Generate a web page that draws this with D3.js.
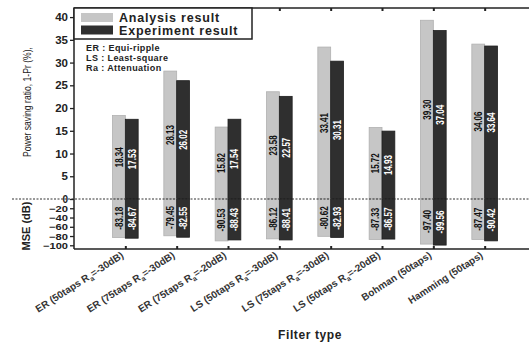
<!DOCTYPE html>
<html>
<head>
<meta charset="utf-8">
<script src="https://cdn.jsdelivr.net/npm/d3@7"></script>
<style>
  body { margin: 0; background: #fff; }
  svg { display: block; font-family: "Liberation Sans", Arial, sans-serif; }
</style>
</head>
<body>
<svg id="chart" width="529" height="344"></svg>
<script>
// filter types (R_a written with subscript)
const filters = [
  ["ER (50taps R", "a", "=-30dB)"],
  ["ER (75taps R", "a", "=-30dB)"],
  ["ER (75taps R", "a", "=-20dB)"],
  ["LS (50taps R", "a", "=-30dB)"],
  ["LS (75taps R", "a", "=-30dB)"],
  ["LS (50taps R", "a", "=-20dB)"],
  ["Bohman (50taps)"],
  ["Hamming (50taps)"]
];
const analysis = [18.34, 28.13, 15.82, 23.58, 33.41, 15.72, 39.30, 34.06];
const experiment = [17.53, 26.02, 17.54, 22.57, 30.31, 14.93, 37.04, 33.64];
const mseAnalysis = [-83.18, -79.45, -90.53, -86.12, -80.62, -87.33, -97.40, -87.47];
const mseExperiment = [-84.67, -82.55, -88.43, -88.41, -82.93, -86.57, -99.56, -90.42];
const topTicks = [0, 5, 10, 15, 20, 25, 30, 35, 40];
const mseTicks = [-20, -40, -60, -80, -100];
const notes = ["ER : Equi-ripple", "LS : Least-square", "Ra : Attenuation"];

const svg = d3.select("#chart");
const plotLeft = 74, plotTop = 8, zeroY = 199, plotBottom = 249, plotRight = 536;
const GRAY = "#c6c6c6", DARK = "#2f2f2f";

const x = d3.scaleLinear().domain([0, filters.length + 1]).range([plotLeft, plotRight]);
const yTop = d3.scaleLinear().domain([0, 42]).range([zeroY, plotTop]);
const yBot = d3.scaleLinear().domain([0, -108]).range([zeroY, plotBottom]);
const barW = 0.25; // in category units

const chart = svg.append("g");

// bars: positive part (power saving ratio) and negative part (MSE)
function bars(values, scale, offset, fill, stroke, cls) {
  chart.selectAll("." + cls)
    .data(values)
    .enter()
    .append("rect")
    .attr("class", cls)
    .attr("x", (d, i) => x(i + 1 + offset))
    .attr("width", x(barW) - x(0))
    .attr("y", d => Math.min(scale(d), scale(0)))
    .attr("height", d => Math.abs(scale(d) - scale(0)))
    .attr("fill", fill)
    .attr("stroke", stroke)
    .attr("stroke-width", 0.8);
}
bars(analysis, yTop, -barW, GRAY, "#b0b0b0", "a-top");
bars(experiment, yTop, 0, DARK, "#1e1e1e", "e-top");
bars(mseAnalysis, yBot, -barW, GRAY, "#b0b0b0", "a-bot");
bars(mseExperiment, yBot, 0, DARK, "#1e1e1e", "e-bot");

// value labels inside the bars, rotated
function labels(values, scale, offset, color, cls) {
  chart.selectAll("." + cls)
    .data(values)
    .enter()
    .append("text")
    .attr("class", cls)
    .attr("transform", (d, i) => {
      const cx = x(i + 1 + offset + barW / 2);
      const cy = (scale(d) + scale(0)) / 2;
      return `translate(${cx},${cy}) rotate(-90)`;
    })
    .attr("text-anchor", "middle")
    .attr("dy", "0.36em")
    .attr("font-size", 10.5)
    .attr("font-weight", "bold")
    .attr("fill", color)
    .attr("textLength", d => d < 0 ? 23 : 20)
    .attr("lengthAdjust", "spacingAndGlyphs")
    .text(d => d.toFixed(2));
}
labels(analysis, yTop, -barW, "#111", "la-top");
labels(experiment, yTop, 0, "#fff", "le-top");
labels(mseAnalysis, yBot, -barW, "#111", "la-bot");
labels(mseExperiment, yBot, 0, "#fff", "le-bot");

// dashed zero line
svg.append("line")
  .attr("x1", 12).attr("x2", 529)
  .attr("y1", zeroY).attr("y2", zeroY)
  .attr("stroke", "#333").attr("stroke-width", 1)
  .attr("stroke-dasharray", "2,1.5");

// frame lines
svg.append("line").attr("x1", plotLeft).attr("x2", plotRight).attr("y1", plotTop).attr("y2", plotTop)
  .attr("stroke", "#222").attr("stroke-width", 1.5);
svg.append("line").attr("x1", plotLeft).attr("x2", plotRight).attr("y1", plotBottom).attr("y2", plotBottom)
  .attr("stroke", "#222").attr("stroke-width", 1.5);

// y axes
const axTop = svg.append("g").attr("transform", `translate(${plotLeft},0)`)
  .call(d3.axisLeft(yTop).tickValues(topTicks).tickSize(4).tickPadding(2));
const axBot = svg.append("g").attr("transform", `translate(${plotLeft},0)`)
  .call(d3.axisLeft(yBot).tickValues(mseTicks).tickSize(4).tickPadding(2));
[axTop, axBot].forEach(ax => {
  ax.select(".domain").remove();
  ax.selectAll("line").attr("stroke", "#222").attr("stroke-width", 1.3);
  ax.selectAll("text").attr("font-weight", "bold").attr("fill", "#222");
});
axTop.selectAll("text").attr("font-size", 11.5);
axTop.selectAll("text").filter(d => d === 0).attr("font-size", 10);
axBot.selectAll("text").attr("font-size", 9).attr("dy", "0.34em")
  .attr("textLength", d => d === -100 ? 25 : 19).attr("lengthAdjust", "spacingAndGlyphs");

svg.append("line").attr("x1", plotLeft).attr("x2", plotLeft).attr("y1", plotTop).attr("y2", plotBottom)
  .attr("stroke", "#222").attr("stroke-width", 1.5);

// x ticks (inside, bottom and top)
const xs = filters.map((f, i) => i + 1);
svg.append("g").attr("transform", `translate(0,${plotBottom})`)
  .call(d3.axisBottom(x).tickValues(xs).tickSize(-3).tickFormat(""))
  .call(g => g.select(".domain").remove())
  .selectAll("line").attr("stroke", "#222").attr("stroke-width", 2);
svg.append("g").attr("transform", `translate(0,${plotTop})`)
  .call(d3.axisTop(x).tickValues(xs).tickSize(-3).tickFormat(""))
  .call(g => g.select(".domain").remove())
  .selectAll("line").attr("stroke", "#222").attr("stroke-width", 2);

// x tick labels
const xl = svg.selectAll(".xlab")
  .data(filters)
  .enter()
  .append("text")
  .attr("class", "xlab")
  .attr("transform", (d, i) => `translate(${x(i + 1) - 1},${plotBottom + 8}) rotate(-33)`)
  .attr("text-anchor", "end")
  .attr("font-size", 10)
  .attr("font-weight", "bold")
  .attr("fill", "#333");
xl.each(function (d) {
  const t = d3.select(this);
  t.append("tspan").text(d[0]);
  if (d.length > 1) {
    t.append("tspan").attr("font-size", 7).attr("dy", 3).text(d[1]);
    t.append("tspan").attr("dy", -3).text(d[2]);
  }
});

// axis titles
svg.append("text")
  .attr("transform", "translate(31,102) rotate(-90)")
  .attr("text-anchor", "middle")
  .attr("font-size", 11)
  .attr("fill", "#222")
  .attr("textLength", 110)
  .attr("lengthAdjust", "spacingAndGlyphs")
  .text("Power saving ratio, 1-Pr (%),");
svg.append("text")
  .attr("transform", "translate(30,226) rotate(-90)")
  .attr("text-anchor", "middle")
  .attr("font-size", 11)
  .attr("font-weight", "bold")
  .attr("fill", "#222")
  .text("MSE (dB)");
svg.append("text")
  .attr("x", 310).attr("y", 339)
  .attr("text-anchor", "middle")
  .attr("font-size", 12)
  .attr("font-weight", "bold")
  .attr("letter-spacing", 0.6)
  .attr("fill", "#222")
  .text("Filter type");

// legend
const lg = svg.append("g");
lg.append("rect").attr("x", plotLeft).attr("y", plotTop).attr("width", 252 - plotLeft).attr("height", 31)
  .attr("fill", "#fff").attr("stroke", "#222").attr("stroke-width", 1.5);
const legendItems = [["Analysis result", GRAY], ["Experiment result", DARK]];
legendItems.forEach((d, i) => {
  lg.append("rect").attr("x", 81).attr("y", 13 + i * 12.5).attr("width", 32).attr("height", 9)
    .attr("fill", d[1]);
  lg.append("text").attr("x", 119).attr("y", 22 + i * 12.5)
    .attr("font-size", 12.5).attr("font-weight", "bold").attr("letter-spacing", 0.8)
    .attr("fill", "#222").text(d[0]);
});

// abbreviations note
svg.selectAll(".note")
  .data(notes)
  .enter()
  .append("text")
  .attr("class", "note")
  .attr("x", 86)
  .attr("y", (d, i) => 51 + i * 10)
  .attr("font-size", 9)
  .attr("font-weight", "bold")
  .attr("letter-spacing", 0.4)
  .attr("fill", "#222")
  .text(d => d);
</script>
</body>
</html>
